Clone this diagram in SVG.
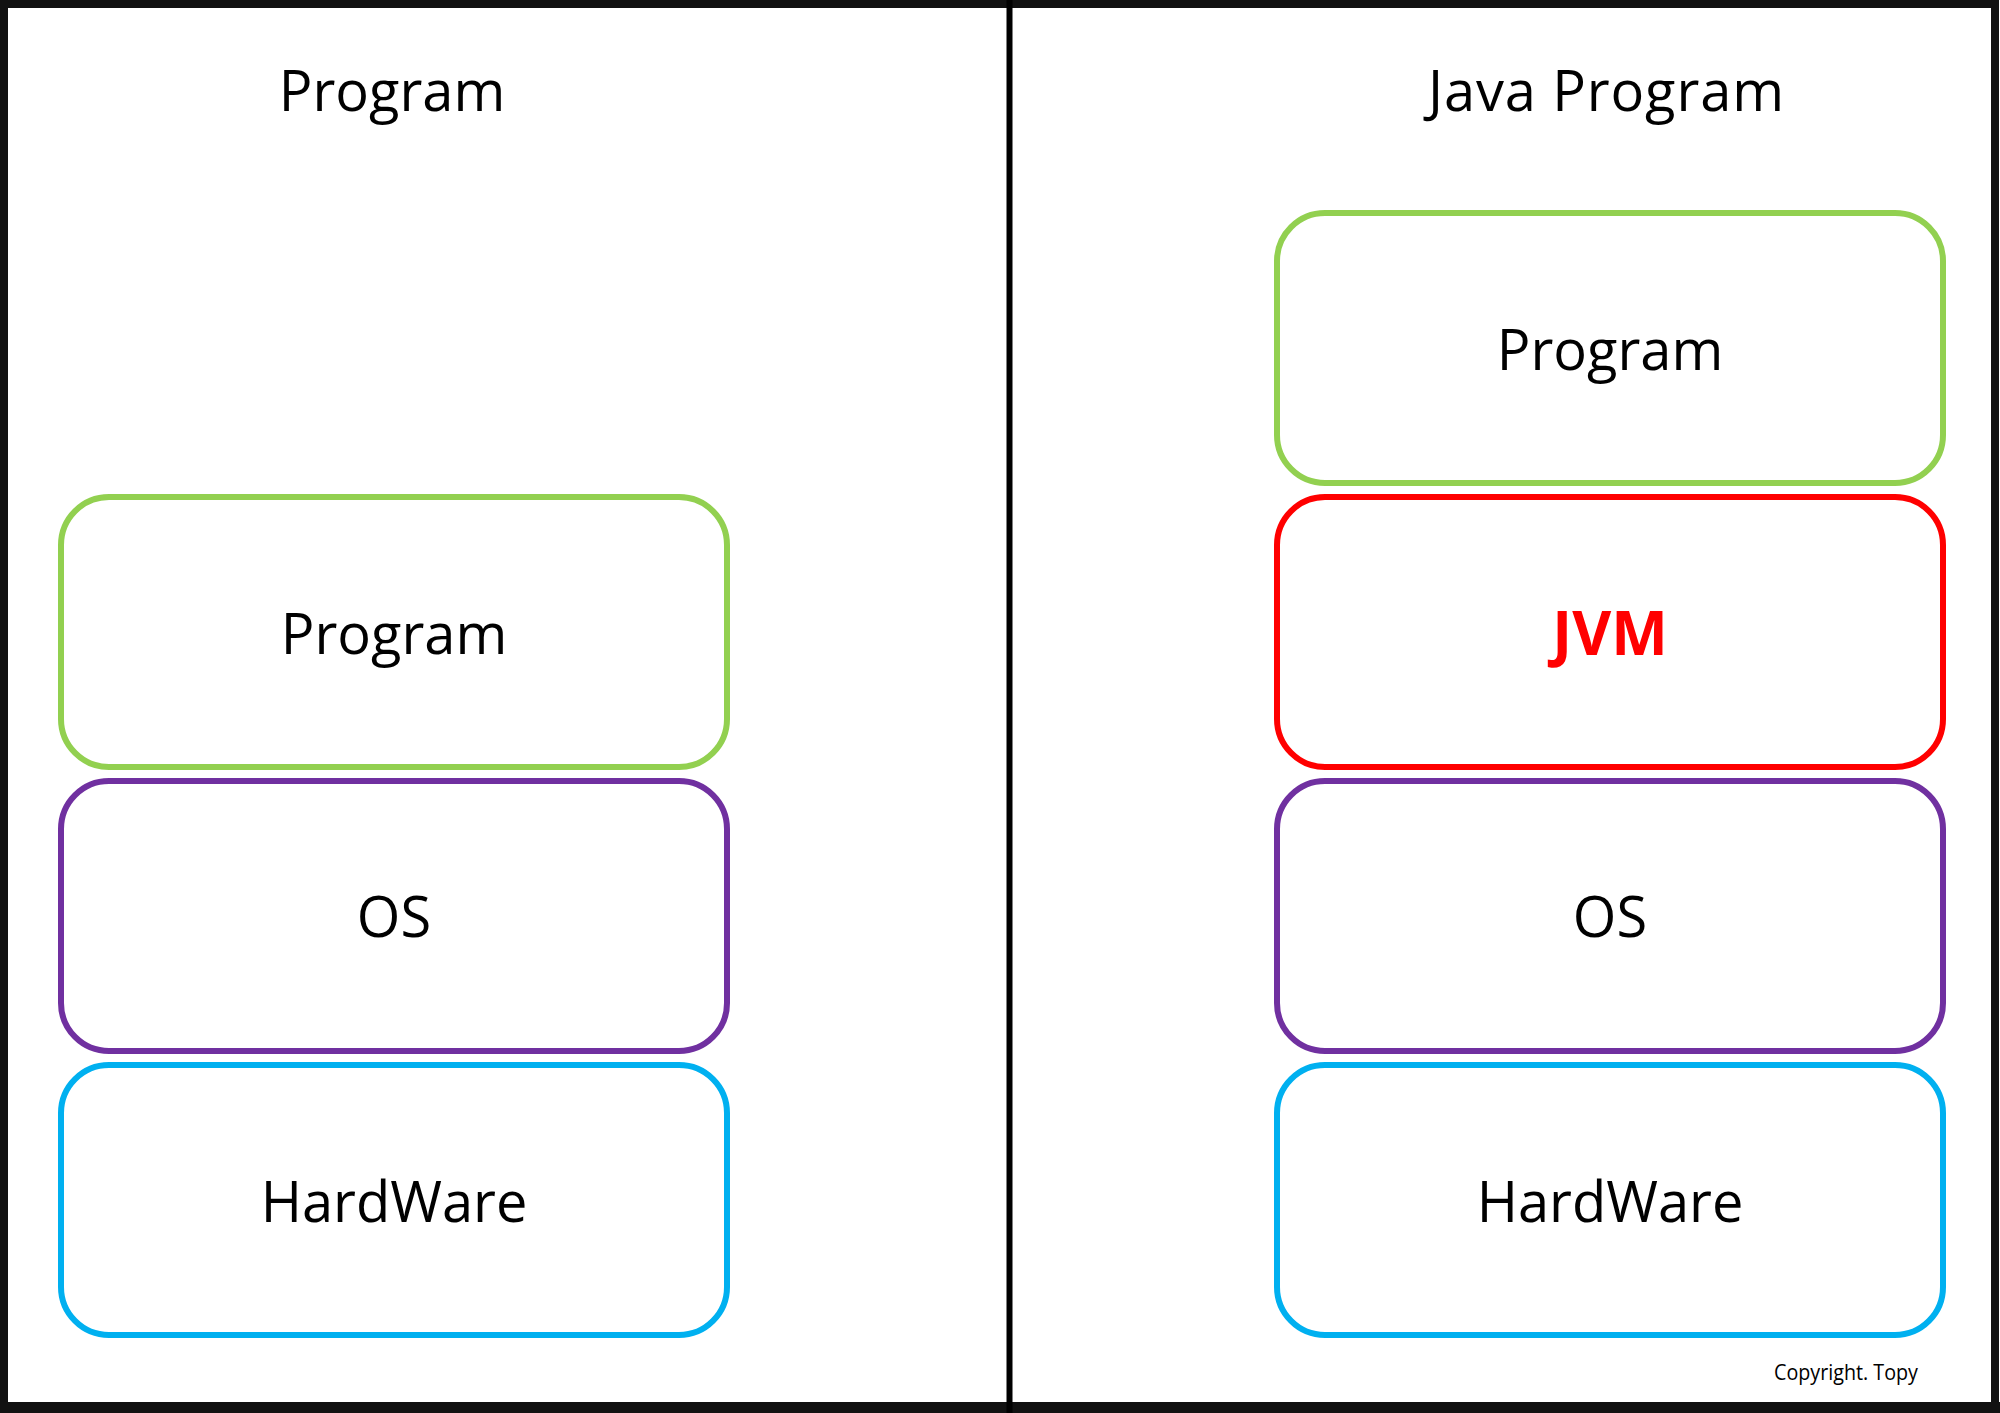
<svg xmlns="http://www.w3.org/2000/svg" width="2000" height="1413" viewBox="0 0 2000 1413">
<style>
.box{fill:#fff;stroke-width:6}
.lbl{font-family:"Open Sans","Noto Sans",sans-serif;font-size:56px;fill:#000;text-anchor:middle}
.title{font-family:"Open Sans","Noto Sans",sans-serif;font-size:56px;fill:#000;text-anchor:middle}
.green{stroke:#92d050}
.purple{stroke:#7030a0}
.blue{stroke:#00b0f0}
.red{stroke:#ff0000}
</style>
<rect x="0" y="0" width="2000" height="1413" fill="#fff"/>
<g id="frame">
<rect x="4" y="4" width="1991" height="1402" fill="none" stroke="#111" stroke-width="8"/>
<rect x="0" y="1402" width="2000" height="11" fill="#111"/>
<line x1="1009.5" y1="0" x2="1009.5" y2="1413" stroke="#000" stroke-width="6"/>
</g>
<g id="title-left"><text class="title" x="392" y="111">Program</text></g>
<g id="title-right"><text class="title" x="1606" y="111" textLength="356" lengthAdjust="spacing">Java Program</text></g>
<g id="left-program"><rect class="box green" x="61" y="497" width="666" height="270" rx="48"/><text class="lbl" x="394" y="654">Program</text></g>
<g id="left-os"><rect class="box purple" x="61" y="781" width="666" height="270" rx="48"/><text class="lbl" x="394" y="937">OS</text></g>
<g id="left-hardware"><rect class="box blue" x="61" y="1065" width="666" height="270" rx="48"/><text class="lbl" x="394" y="1222">HardWare</text></g>
<g id="right-program"><rect class="box green" x="1277" y="213" width="666" height="270" rx="48"/><text class="lbl" x="1610" y="370">Program</text></g>
<g id="right-jvm"><rect class="box red" x="1277" y="497" width="666" height="270" rx="48"/><text class="lbl" x="1610" y="655" style="fill:#ff0000;font-weight:bold;font-size:60px">JVM</text></g>
<g id="right-os"><rect class="box purple" x="1277" y="781" width="666" height="270" rx="48"/><text class="lbl" x="1610" y="937">OS</text></g>
<g id="right-hardware"><rect class="box blue" x="1277" y="1065" width="666" height="270" rx="48"/><text class="lbl" x="1610" y="1222">HardWare</text></g>
<g id="connectors"></g>
<g id="copyright"><text x="1774" y="1380" font-family="Open Sans, Noto Sans, sans-serif" font-size="22" textLength="144" lengthAdjust="spacingAndGlyphs" fill="#000">Copyright. Topy</text></g>
</svg>
